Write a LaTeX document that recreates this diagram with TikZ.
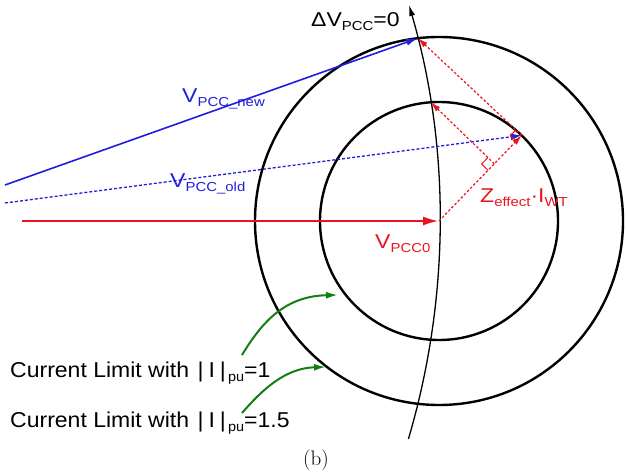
\documentclass[tikz,border=0pt]{standalone}
\usepackage{fontspec}
\newfontfamily\lab[FakeStretch=1.15]{Liberation Sans}
\newfontfamily\arialf[FakeStretch=1.07]{Liberation Sans}
\usetikzlibrary{arrows.meta,calc}
\newcommand{\sbs}[1]{\raisebox{-4pt}{\fontsize{13}{13}\selectfont #1}}
\newcommand{\sbt}[1]{\raisebox{-4.5pt}{\fontsize{13.5}{13.5}\selectfont #1}}
\definecolor{myred}{RGB}{235,20,30}
\definecolor{myblue}{RGB}{30,30,220}
\definecolor{mygreen}{RGB}{20,125,20}
\begin{document}
\begin{tikzpicture}[x=1pt,y=-1pt,
  lbl/.style={font={\lab\fontsize{20}{24}\selectfont}, inner sep=0pt, anchor=base west},
  cur/.style={font={\arialf\fontsize{21.5}{25}\selectfont}, inner sep=0pt, anchor=base west},
  ring/.style={line width=2.4pt, black},
  dotred/.style={myred, line width=1.2pt, dash pattern=on 2.5pt off 2pt, -{Latex[length=10pt,width=6pt]}},
  rmark/.style={myred, line width=1pt},
  garrow/.style={mygreen, line width=2pt, -{Latex[length=12pt,width=7pt]}}]
\useasboundingbox (0,0) rectangle (626,473);
% key points
\coordinate (C) at (439,221);
\coordinate (P) at (521.7,135.4);
\coordinate (Q1) at (430.8,102.3);
\coordinate (Q2) at (418,38.2);
\coordinate (F) at (494.3,163.8);
\coordinate (bn0) at (5,185);
\coordinate (bo0) at (5,203);
\coordinate (r0) at (22,221);
% rings
\draw[ring] (C) circle[radius=119];
\draw[ring] (C) circle[radius=184];
% Delta V = 0 curve
\draw[line width=1.3pt, -{Latex[length=11pt,width=6pt]}] (408.4,439) arc[start angle=16.45, end angle=-16.29, radius=770];
% phasors
\draw[myblue, line width=1.6pt, -{Latex[length=12pt,width=7pt]}] (bn0) -- (Q2);
\draw[myblue, line width=1.3pt, dash pattern=on 3pt off 2pt, -{Latex[length=11pt,width=7pt]}] (bo0) -- (P);
\draw[myred, line width=2.5pt, -{Latex[length=16pt,width=9pt]}] (r0) -- (C);
\draw[dotred] (C) -- (P);
\draw[dotred] (P) -- (Q2);
\draw[dotred] (F) -- (Q1);
% right angle marks
\coordinate (fa) at ($(F)!9pt!(C)$);
\coordinate (fd) at ($(F)!9pt!(Q1)$);
\coordinate (fb) at ($(fa)+(fd)-(F)$);
\draw[rmark] (fa) -- (fb) -- (fd);
\coordinate (pa) at ($(P)!8pt!(C)$);
\coordinate (pd) at ($(P)!8pt!(Q2)$);
\coordinate (pb) at ($(pa)+(pd)-(P)$);
\draw[rmark] (pa) -- (pb) -- (pd);
% labels
\node[lbl] (ldv) at (311,27) {ΔV\sbs{PCC}=0};
\node[lbl, text=myblue] (lnew) at (182,103) {V\sbs{PCC\_new}};
\node[lbl, text=myblue] (lold) at (170,188) {V\sbs{PCC\_old}};
\node[lbl, text=myred] (l0) at (375,248) {V\sbs{PCC0}};
\node[lbl, text=myred] (lz) at (480,202) {Z\sbs{effect}·I\sbs{WT}};
\node[cur] (c1) at (10,377) {Current Limit with \hspace{2pt}\textbar\hspace{5pt}I\hspace{5pt}\textbar\sbt{\,pu}=1};
\node[cur] (c2) at (10,427) {Current Limit with \hspace{2pt}\textbar\hspace{5pt}I\hspace{5pt}\textbar\sbt{\,pu}=1.5};
\node[font=\fontsize{21}{25}\selectfont, inner sep=0pt, anchor=base west] (cap) at (303,465) {(b)};
% green arrows
\coordinate (g1s) at (242,355);
\coordinate (g1e) at (338,295);
\coordinate (g2s) at (242,413);
\coordinate (g2e) at (326,367);
\draw[garrow] (g1s) .. controls (262,322) and (285,296) .. (g1e);
\draw[garrow] (g2s) .. controls (262,390) and (285,368) .. (g2e);
\end{tikzpicture}
\end{document}
